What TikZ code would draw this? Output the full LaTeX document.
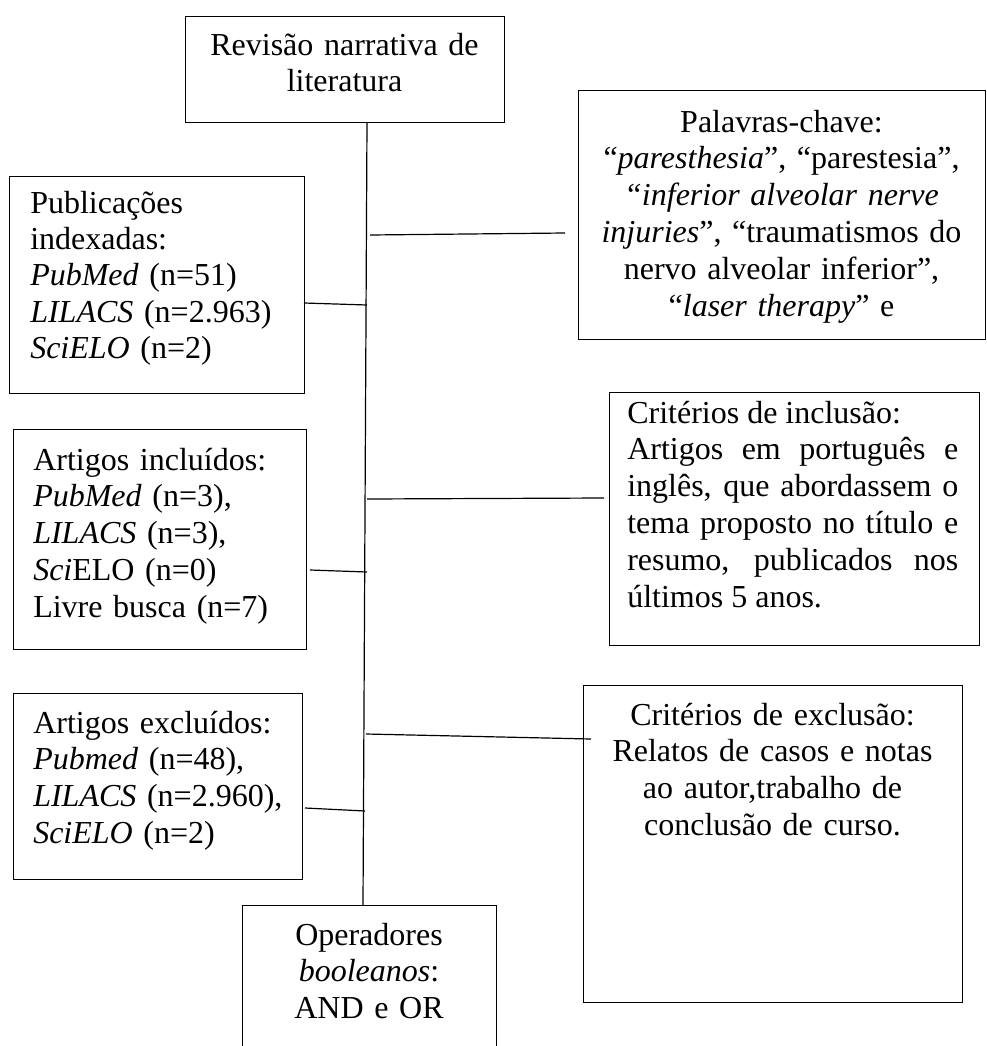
\documentclass[tikz,border=0pt]{standalone}
\usepackage{fontspec}
\setmainfont{Liberation Serif}
\begin{document}
\begin{tikzpicture}[x=0.75pt,y=-0.75pt,
  box/.style={draw, line width=0.9pt, inner sep=0pt, anchor=north west},
  conn/.style={line width=0.9pt},
  txt/.style={inner sep=0pt, font=\fontsize{24}{27.6}\selectfont},
  ltxt/.style={txt, text width=215pt, align=left, anchor=base west},
  ctxt/.style={txt, text width=300pt, align=center, anchor=base}]
\useasboundingbox (0,0) rectangle (987,1046);
% boxes
\node[box, minimum width=239.25pt, minimum height=79.5pt] (top) at (185,16) {};
\node[box, minimum width=305.25pt, minimum height=186.75pt] (kw) at (578,90) {};
\node[box, minimum width=221.25pt, minimum height=162.75pt] (pub) at (9,176) {};
\node[box, minimum width=219.75pt, minimum height=165pt] (inc) at (13,429) {};
\node[box, minimum width=277.5pt, minimum height=189.75pt] (critin) at (609,392) {};
\node[box, minimum width=216.75pt, minimum height=139.5pt] (exc) at (13,693) {};
\node[box, minimum width=284.25pt, minimum height=237.75pt] (critex) at (583,685) {};
\node[box, minimum width=190.5pt, minimum height=123.75pt] (ops) at (242,905) {};
% texts
\node[ctxt, text width=235pt] (toptxt) at (344.5,55) {Revisão narrativa de\\literatura};
\node[ctxt] (kwtxt) at (781.5,132) {Palavras-chave:\\“\textit{paresthesia}”, “parestesia”,\\\textit{“inferior alveolar nerve}\\\textit{injuries}”, “traumatismos do\\nervo alveolar inferior”,\\“\textit{laser therapy}” e};
\node[ltxt, font=\fontsize{24}{27.3}\selectfont] (pubtxt) at (30,213) {Publicações\\indexadas:\\\textit{PubMed} (n=51)\\\textit{LILACS} (n=2.963)\\\textit{SciELO} (n=2)};
\node[ltxt] (inctxt) at (33,470) {Artigos incluídos:\\\textit{PubMed} (n=3),\\\textit{LILACS} (n=3),\\\textit{Sci}ELO (n=0)\\Livre busca (n=7)};
\node[txt, text width=248.25pt, align=justify, anchor=base west] (critintxt) at (627,423) {Critérios de inclusão:\\Artigos em português e\linebreak inglês, que abordassem o\linebreak tema proposto no título e\linebreak resumo, publicados nos\linebreak últimos 5 anos.};
\node[ltxt] (exctxt) at (33,733) {Artigos excluídos:\\\textit{Pubmed} (n=48),\\\textit{LILACS} (n=2.960),\\\textit{SciELO} (n=2)};
\node[ctxt, text width=270pt] (critextxt) at (772.5,725) {Critérios de exclusão:\\Relatos de casos e notas\\ao autor,trabalho de\\conclusão de curso.};
\node[ctxt, text width=180pt] (opstxt) at (369,945) {Operadores\\\textit{booleanos}:\\AND e OR};
% connectors
\coordinate (vtop) at (367,122);
\coordinate (vbot) at (363,905);
\draw[conn] (vtop) -- (vbot);
\coordinate (kwa) at (370,235); \coordinate (kwb) at (565,233);
\draw[conn] (kwa) -- (kwb);
\coordinate (puba) at (304,303); \coordinate (pubb) at (367,305);
\draw[conn] (puba) -- (pubb);
\coordinate (cia) at (367,499); \coordinate (cib) at (604,498);
\draw[conn] (cia) -- (cib);
\coordinate (inca) at (310,570); \coordinate (incb) at (367,572);
\draw[conn] (inca) -- (incb);
\coordinate (cea) at (366,734); \coordinate (ceb) at (591,739);
\draw[conn] (cea) -- (ceb);
\coordinate (exca) at (305,808); \coordinate (excb) at (365,811);
\draw[conn] (exca) -- (excb);
\end{tikzpicture}
\end{document}
